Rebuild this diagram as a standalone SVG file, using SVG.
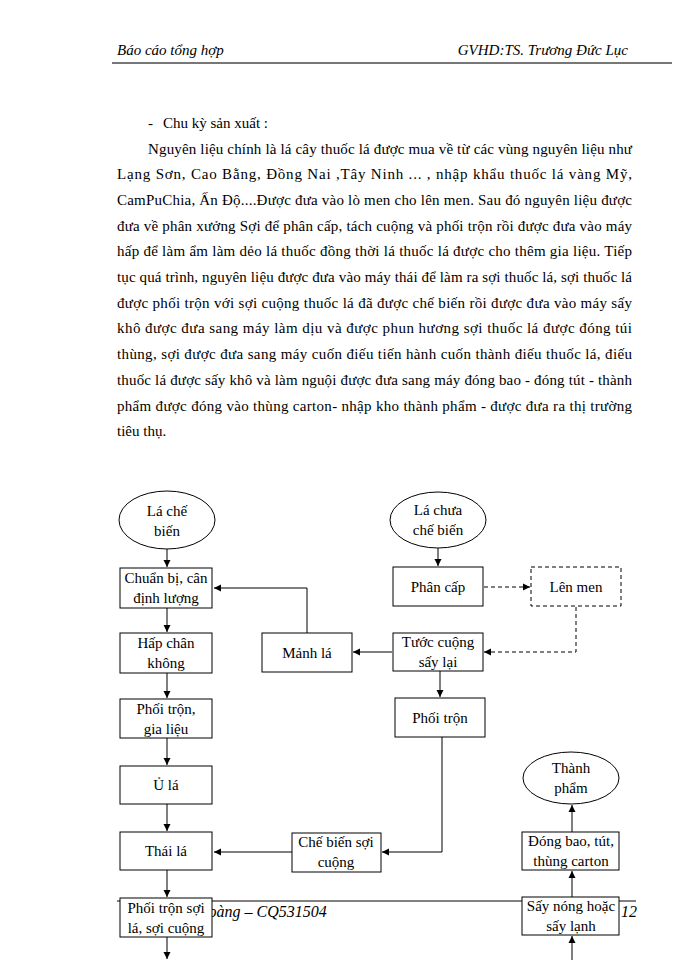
<svg xmlns="http://www.w3.org/2000/svg" width="700" height="960" viewBox="0 0 700 960">
<style>
.t{font-family:"Liberation Serif","Times New Roman",serif;font-size:15px;fill:#000}
.h{font-family:"Liberation Serif","Times New Roman",serif;font-size:15px;font-style:italic;fill:#000}
.n{font-family:"Liberation Serif","Times New Roman",serif;font-size:15px;fill:#000;text-anchor:middle}
.box{fill:#fff;stroke:#000;stroke-width:1}
.dbox{fill:#fff;stroke:#000;stroke-width:1;stroke-dasharray:4 3}
.c{fill:none;stroke:#000;stroke-width:1}
.dc{fill:none;stroke:#000;stroke-width:1;stroke-dasharray:4 3}
</style>
<defs>
<marker id="a" markerWidth="8" markerHeight="8" refX="7" refY="4" orient="auto" markerUnits="userSpaceOnUse">
<path d="M0,0.5 L7,4 L0,7.5 Z" fill="#000"/>
</marker>
</defs>
<rect width="700" height="960" fill="#fff"/>
<!-- header -->
<text class="h" x="117" y="55">Báo cáo tổng hợp</text>
<text class="h" x="628" y="55" text-anchor="end">GVHD:TS. Trương Đức Lục</text>
<line x1="112" y1="63" x2="672" y2="63" stroke="#777" stroke-width="2"/>
<!-- body text -->
<text class="t" x="148" y="128">-</text>
<text class="t" x="163" y="128">Chu kỳ sản xuất :</text>
<text class="t" x="148" y="153.5" textLength="484" lengthAdjust="spacing">Nguyên liệu chính là lá cây thuốc lá được mua về từ các vùng nguyên  liệu như</text>
<text class="t" x="117" y="179.2" textLength="515" lengthAdjust="spacing">Lạng Sơn, Cao Bằng, Đồng Nai ,Tây Ninh ... , nhập khẩu thuốc lá vàng Mỹ,</text>
<text class="t" x="117" y="204.9" textLength="515" lengthAdjust="spacing">CamPuChia, Ấn Độ....Được đưa vào lò men cho lên men. Sau đó nguyên liệu được</text>
<text class="t" x="117" y="230.6" textLength="515" lengthAdjust="spacing">đưa về phân xưởng Sợi để phân cấp, tách cuộng và phối trộn rồi được đưa vào máy</text>
<text class="t" x="117" y="256.3" textLength="515" lengthAdjust="spacing">hấp để làm ẩm làm dẻo lá thuốc đồng thời lá thuốc lá được cho thêm gia liệu. Tiếp</text>
<text class="t" x="117" y="282" textLength="515" lengthAdjust="spacing">tục quá trình, nguyên liệu được đưa vào máy thái để làm ra sợi thuốc lá, sợi thuốc lá</text>
<text class="t" x="117" y="307.7" textLength="515" lengthAdjust="spacing">được phối trộn với sợi cuộng thuốc lá  đã được chế biến rồi được đưa vào máy sấy</text>
<text class="t" x="117" y="333.4" textLength="515" lengthAdjust="spacing">khô được đưa sang máy làm dịu và được phun hương sợi thuốc lá được đóng túi</text>
<text class="t" x="117" y="359.1" textLength="515" lengthAdjust="spacing">thùng, sợi được đưa sang máy cuốn điếu tiến hành cuốn thành điếu thuốc lá, điếu</text>
<text class="t" x="117" y="384.8" textLength="515" lengthAdjust="spacing">thuốc lá được sấy khô và làm nguội được đưa sang máy đóng bao - đóng tút - thành</text>
<text class="t" x="117" y="410.5" textLength="515" lengthAdjust="spacing">phẩm được đóng vào thùng carton- nhập kho thành phẩm - được đưa ra thị trường</text>
<text class="t" x="117" y="436.2">tiêu thụ.</text>
<!-- footer (partly hidden under boxes) -->
<line x1="117" y1="901" x2="636" y2="901" stroke="#000" stroke-width="1"/>
<text class="h" x="197" y="917" style="font-size:16px">Hoàng – CQ531504</text>
<text class="h" x="637" y="917" text-anchor="end" style="font-size:16px">12</text>
<!-- connectors -->
<g id="connectors">
<line class="c" x1="167" y1="549" x2="167" y2="567" marker-end="url(#a)"/>
<polyline class="c" points="307,633 307,588 214,588" marker-end="url(#a)"/>
<line class="c" x1="167" y1="608" x2="167" y2="632" marker-end="url(#a)"/>
<line class="c" x1="167" y1="673" x2="167" y2="698" marker-end="url(#a)"/>
<line class="c" x1="167" y1="738" x2="167" y2="765" marker-end="url(#a)"/>
<line class="c" x1="167" y1="804" x2="167" y2="831" marker-end="url(#a)"/>
<line class="c" x1="167" y1="870" x2="167" y2="897" marker-end="url(#a)"/>
<line class="c" x1="167" y1="937" x2="167" y2="959" marker-end="url(#a)"/>
<line class="c" x1="438" y1="548" x2="438" y2="566" marker-end="url(#a)"/>
<line class="dc" x1="484" y1="587" x2="530" y2="587" marker-end="url(#a)"/>
<polyline class="dc" points="576,607 576,652 484,652" marker-end="url(#a)"/>
<line class="c" x1="392" y1="652" x2="353" y2="652" marker-end="url(#a)"/>
<line class="c" x1="440" y1="671" x2="440" y2="697" marker-end="url(#a)"/>
<polyline class="c" points="442,737 442,852 382,852" marker-end="url(#a)"/>
<line class="c" x1="292" y1="852" x2="214" y2="852" marker-end="url(#a)"/>
<line class="c" x1="572" y1="960" x2="572" y2="936" marker-end="url(#a)"/>
<line class="c" x1="572" y1="897" x2="572" y2="871" marker-end="url(#a)"/>
<line class="c" x1="572" y1="832" x2="572" y2="805" marker-end="url(#a)"/>
</g>
<!-- nodes -->
<g id="n-la-che-bien">
<ellipse class="box" cx="167" cy="520" rx="48" ry="29"/>
<text class="n" x="167" y="516">Lá chế</text>
<text class="n" x="167" y="536">biến</text>
</g>
<g id="n-la-chua-che-bien">
<ellipse class="box" cx="438" cy="520" rx="48" ry="28"/>
<text class="n" x="438" y="515">Lá chưa</text>
<text class="n" x="438" y="535">chế biến</text>
</g>
<g id="n-chuan-bi">
<rect class="box" x="120" y="568" width="92" height="40"/>
<text class="n" x="166" y="583">Chuẩn bị, cân</text>
<text class="n" x="166" y="603">định lượng</text>
</g>
<g id="n-phan-cap">
<rect class="box" x="393" y="567" width="90" height="39"/>
<text class="n" x="438" y="592">Phân cấp</text>
</g>
<g id="n-len-men">
<rect class="dbox" x="531" y="567" width="90" height="39"/>
<text class="n" x="576" y="592">Lên men</text>
</g>
<g id="n-hap-chan-khong">
<rect class="box" x="120" y="633" width="92" height="40"/>
<text class="n" x="166" y="648">Hấp  chân</text>
<text class="n" x="166" y="668">không</text>
</g>
<g id="n-manh-la">
<rect class="box" x="262" y="633" width="90" height="39"/>
<text class="n" x="307" y="658">Mảnh lá</text>
</g>
<g id="n-tuoc-cuong">
<rect class="box" x="393" y="633" width="90" height="38"/>
<text class="n" x="438" y="647">Tước cuộng</text>
<text class="n" x="438" y="667">sấy lại</text>
</g>
<g id="n-phoi-tron">
<rect class="box" x="395" y="698" width="90" height="39"/>
<text class="n" x="440" y="723">Phối trộn</text>
</g>
<g id="n-phoi-tron-gia-lieu">
<rect class="box" x="120" y="699" width="92" height="39"/>
<text class="n" x="166" y="714">Phối trộn,</text>
<text class="n" x="166" y="734">gia liệu</text>
</g>
<g id="n-u-la">
<rect class="box" x="120" y="766" width="92" height="38"/>
<text class="n" x="166" y="790">Ủ lá</text>
</g>
<g id="n-thai-la">
<rect class="box" x="120" y="832" width="92" height="38"/>
<text class="n" x="166" y="856">Thái  lá</text>
</g>
<g id="n-che-bien-soi-cuong">
<rect class="box" x="292" y="833" width="89" height="39"/>
<text class="n" x="336" y="847">Chế  biến sợi</text>
<text class="n" x="336" y="867">cuộng</text>
</g>
<g id="n-phoi-tron-soi">
<rect class="box" x="120" y="898" width="92" height="39"/>
<text class="n" x="166" y="913">Phối trộn sợi</text>
<text class="n" x="166" y="933">lá, sợi cuộng</text>
</g>
<g id="n-thanh-pham">
<ellipse class="box" cx="571" cy="778" rx="48" ry="26"/>
<text class="n" x="571" y="773">Thành</text>
<text class="n" x="571" y="793">phẩm</text>
</g>
<g id="n-dong-bao">
<rect class="box" x="522" y="832" width="97" height="38"/>
<text class="n" x="571" y="846">Đóng bao, tút,</text>
<text class="n" x="571" y="866">thùng carton</text>
</g>
<g id="n-say">
<rect class="box" x="522" y="897" width="97" height="38"/>
<text class="n" x="571" y="911">Sấy nóng hoặc</text>
<text class="n" x="571" y="931">sấy lạnh</text>
</g>
</svg>
